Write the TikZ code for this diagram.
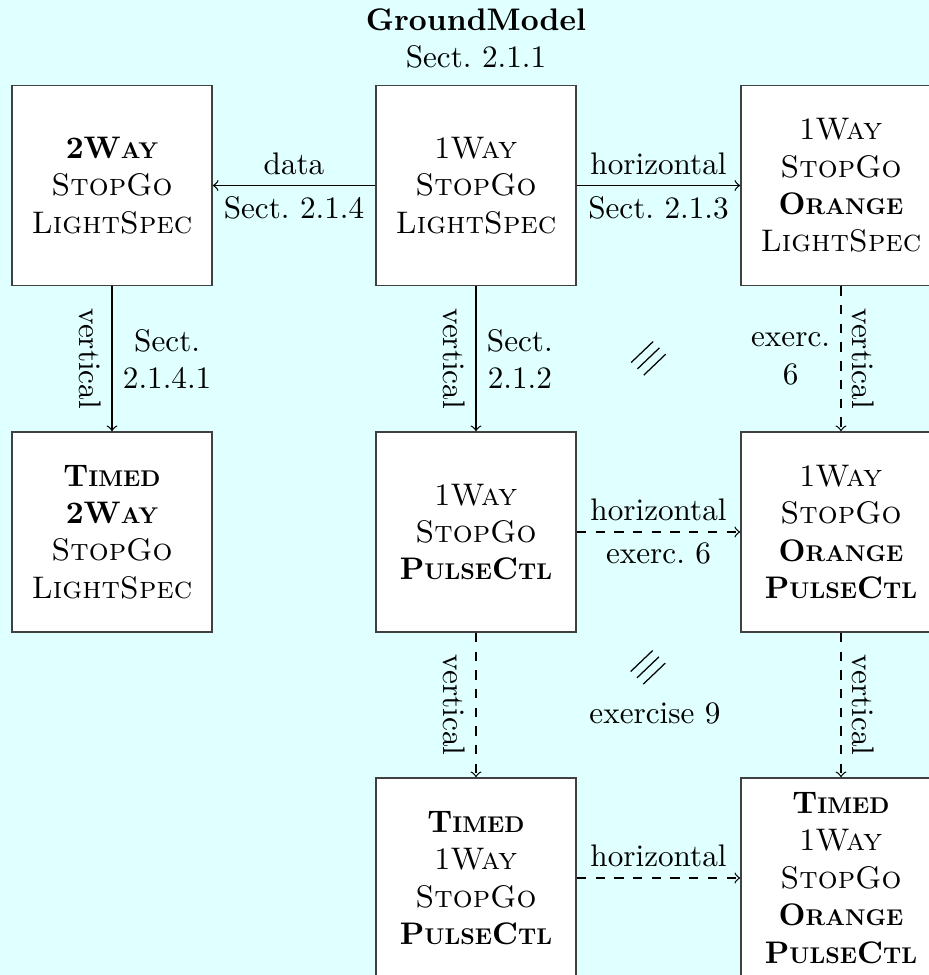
\documentclass[tikz,border=0pt]{standalone}
\usepackage{fontspec}
\usetikzlibrary{calc}

\definecolor{bgcyan}{RGB}{224,255,255}
\definecolor{boxline}{gray}{0.25}

% bold small caps: a bold capital followed by reduced bold capitals
\newfontface\bscsmall[Scale=0.73]{lmroman10-bold.otf}
\newcommand{\bsc}[2]{{\bfseries #1{\bscsmall #2}}}

\tikzset{
  model/.style={draw=boxline, fill=white, line width=0.5pt,
    minimum width=64.1pt, minimum height=64.1pt, align=center, inner sep=2pt},
  conn/.style={->, line width=0.4pt},
  dconn/.style={conn, dashed},
  lab/.style={align=center, inner sep=3.3pt},
  vlabl/.style={lab, rotate=-90, anchor=north},
  vlabr/.style={lab, rotate=-90, anchor=south},
  commute/.style={line width=0.4pt}
}

\begin{document}
\begin{tikzpicture}[x=0.3205pt, y=-0.3205pt]
\useasboundingbox[fill=bgcyan] (0,0) rectangle (929,975);

% models
\node[model] (A) at (112,185.5) {\bsc{2W}{AY}\\\textsc{StopGo}\\\textsc{LightSpec}};
\node[model] (B) at (476,185.5) {1\textsc{Way}\\\textsc{StopGo}\\\textsc{LightSpec}};
\node[model] (C) at (841,185.5) {1\textsc{Way}\\\textsc{StopGo}\\\bsc{O}{RANGE}\\\textsc{LightSpec}};
\node[model] (D) at (112,532) {\bsc{T}{IMED}\\\bsc{2W}{AY}\\\textsc{StopGo}\\\textsc{LightSpec}};
\node[model] (E) at (476,532) {1\textsc{Way}\\\textsc{StopGo}\\\bsc{P}{ULSE}\bsc{C}{TL}};
\node[model] (F) at (841,532) {1\textsc{Way}\\\textsc{StopGo}\\\bsc{O}{RANGE}\\\bsc{P}{ULSE}\bsc{C}{TL}};
\node[model] (G) at (476,878) {\bsc{T}{IMED}\\1\textsc{Way}\\\textsc{StopGo}\\\bsc{P}{ULSE}\bsc{C}{TL}};
\node[model] (H) at (841,878) {\bsc{T}{IMED}\\1\textsc{Way}\\\textsc{StopGo}\\\bsc{O}{RANGE}\\\bsc{P}{ULSE}\bsc{C}{TL}};

% heading of the ground model
\node[lab, anchor=south, inner sep=5pt] (gm) at (B.north) {\textbf{GroundModel}\\Sect.~2.1.1};

% refinements
\draw[conn] (B) -- (A)
  node[lab, midway, anchor=south] (l1) {data}
  node[lab, midway, anchor=north] (l2) {Sect.~2.1.4};
\draw[conn] (B) -- (C)
  node[lab, midway, anchor=south] (l3) {horizontal}
  node[lab, midway, anchor=north] (l4) {Sect.~2.1.3};
\draw[conn] (A) -- (D)
  node[vlabl, midway] (l5) {vertical}
  node[lab, midway, anchor=west] (l6) {Sect.\\2.1.4.1};
\draw[conn] (B) -- (E)
  node[vlabl, midway] (l7) {vertical}
  node[lab, midway, anchor=west] (l8) {Sect.\\2.1.2};
\draw[dconn] (C) -- (F)
  node[lab, midway, anchor=east] (l9) {exerc.\\6}
  node[vlabr, midway] (l10) {vertical};
\draw[dconn] (E) -- (F)
  node[lab, midway, anchor=south] (l11) {horizontal}
  node[lab, midway, anchor=north] (l12) {exerc.~6};
\draw[dconn] (E) -- (G)
  node[vlabl, midway] (l13) {vertical};
\draw[dconn] (F) -- (H)
  node[vlabr, midway] (l14) {vertical};
\draw[dconn] (G) -- (H)
  node[lab, midway, anchor=south] (l15) {horizontal};

% commuting squares
\coordinate (sq1) at (648.5,358);
\coordinate (sq2) at (648,667);
\foreach \c in {sq1,sq2}{
  \foreach \d in {-6.3,0,6.3}{
    \draw[commute] ($(\c)+(\d,\d+0.3)+(-11,10.5)$) -- ($(\c)+(\d,\d+0.3)+(11,-10.5)$);
  }
}
\node[lab] (ex9) at (655,713) {exercise 9};
\end{tikzpicture}
\end{document}
